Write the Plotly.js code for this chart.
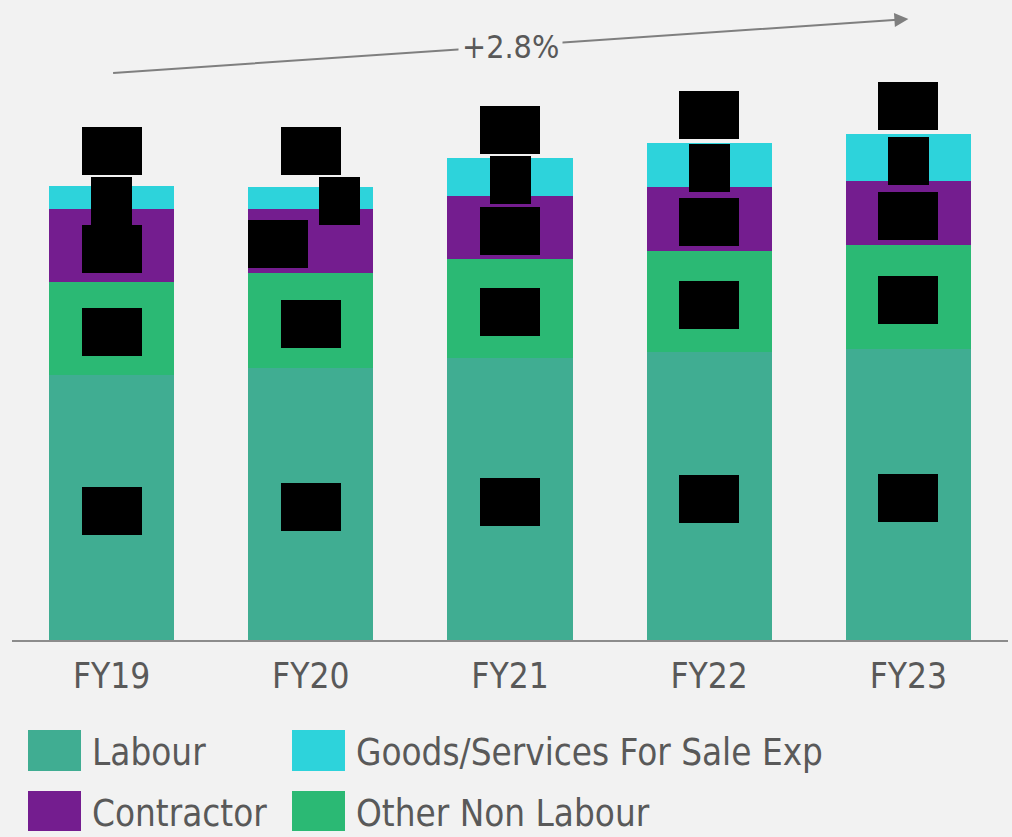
<!DOCTYPE html>
<html>
<head>
<meta charset="utf-8">
<script src="https://cdn.plot.ly/plotly-3.0.1.min.js"></script>
<style>
  html, body { margin: 0; padding: 0; background: #f2f2f2; }
  #chart { width: 1012px; height: 837px; }
</style>
</head>
<body>
<div id="chart"></div>
<script>
// ---- Data ----
const categories = ['FY19', 'FY20', 'FY21', 'FY22', 'FY23'];
const labour = [265, 272, 282, 288, 291];
const otherNonLabour = [93, 95, 99, 101, 104];
const contractor = [73, 64, 63, 64, 64];
const goodsServices = [23, 22, 38, 44, 47];
const seriesNames = ['Labour', 'Other Non Labour', 'Contractor', 'Goods/Services For Sale Exp'];
const growthLabel = '+2.8%';

// ---- Styling ----
const colors = {
  'Labour': '#40ad92',
  'Other Non Labour': '#2bb974',
  'Contractor': '#741d8f',
  'Goods/Services For Sale Exp': '#2dd3db'
};
const FONT = '"DejaVu Sans Condensed", "Liberation Sans Narrow", "DejaVu Sans", sans-serif';
const TEXT_COLOR = '#595959';
const BG = '#f2f2f2';

const W = 1012, H = 837;
const M = {l: 12, r: 4, t: 40, b: 197};
const Y_RANGE = [0, 600];
const plotW = W - M.l - M.r, plotH = H - M.t - M.b;
const unitPerPx = (Y_RANGE[1] - Y_RANGE[0]) / plotH;
const pxX = px => (px - M.l) / plotW;          // page px -> paper x
const pxY = py => (H - M.b - py) / plotH;      // page px -> paper y

const seriesData = [labour, otherNonLabour, contractor, goodsServices];

const traces = seriesData.map((vals, i) => ({
  type: 'bar',
  name: seriesNames[i],
  x: categories,
  y: vals,
  marker: {color: colors[seriesNames[i]], line: {width: 0}},
  showlegend: false,
  hoverinfo: 'x+y+name'
}));

// ---- Redacted value labels (black boxes) ----
const annotations = [];
const boxW = {'Labour': 60, 'Other Non Labour': 60, 'Contractor': 60, 'Goods/Services For Sale Exp': 41};
const BOX_H = 48;
const specialShift = { // label nudges to avoid overlap (px)
  'FY20|Contractor': -33,
  'FY20|Goods/Services For Sale Exp': 29
};
function blackBox(x, y, text, w, opts) {
  return Object.assign({
    x: x, y: y, xref: 'x', yref: 'y', text: text, showarrow: false,
    font: {family: FONT, size: 20, color: '#000000'},
    bgcolor: '#000000', bordercolor: '#000000', borderwidth: 0, borderpad: 0,
    width: w, height: BOX_H, xanchor: 'center', yanchor: 'middle'
  }, opts || {});
}
categories.forEach((cat, ci) => {
  let base = 0;
  let goodsTop = 0;
  seriesData.forEach((vals, si) => {
    const name = seriesNames[si];
    const v = vals[ci];
    const mid = base + v / 2 - 3 * unitPerPx;
    annotations.push(blackBox(cat, mid, String(v), boxW[name], {xshift: specialShift[cat + '|' + name] || 0}));
    if (si === seriesData.length - 1) goodsTop = mid + (BOX_H / 2) * unitPerPx;
    base += v;
  });
  const total = base;
  const totalBottom = Math.max(goodsTop + 1 * unitPerPx, total + 3 * unitPerPx);
  annotations.push(blackBox(cat, totalBottom + 1 * unitPerPx, String(total), 60, {yanchor: 'bottom'}));
});

// ---- Growth arrow ----
annotations.push({
  x: categories.length - 1, y: 621, xref: 'x', yref: 'y',
  ax: 0, ay: 567, axref: 'x', ayref: 'y',
  text: '', showarrow: true, arrowhead: 2, arrowsize: 1.4, arrowwidth: 2,
  arrowcolor: '#7f7f7f'
});
annotations.push({
  x: (categories.length - 1) / 2, y: 593, xref: 'x', yref: 'y',
  text: growthLabel, showarrow: false,
  font: {family: FONT, size: 32, color: TEXT_COLOR},
  bgcolor: BG, borderpad: 3, xanchor: 'center', yanchor: 'middle'
});

// ---- Custom legend (large swatches) ----
const shapes = [];
const legendOrder = ['Labour', 'Goods/Services For Sale Exp', 'Contractor', 'Other Non Labour'];
const colX = [28, 292];
const rowY = [[730, 771], [791, 831]];
legendOrder.forEach((name, k) => {
  const col = k % 2, row = Math.floor(k / 2);
  shapes.push({
    type: 'rect', xref: 'paper', yref: 'paper',
    x0: pxX(colX[col]), x1: pxX(colX[col] + 53),
    y0: pxY(rowY[row][1]), y1: pxY(rowY[row][0]),
    fillcolor: colors[name], line: {width: 0}
  });
  annotations.push({
    x: pxX(colX[col] + 62), y: pxY((rowY[row][0] + rowY[row][1]) / 2 + 2),
    xref: 'paper', yref: 'paper', text: name, showarrow: false,
    xanchor: 'left', yanchor: 'middle',
    font: {family: FONT, size: 36.5, color: TEXT_COLOR}
  });
});

const layout = {
  width: W, height: H,
  margin: M,
  paper_bgcolor: BG, plot_bgcolor: BG,
  barmode: 'stack',
  bargap: 0.372,
  showlegend: false,
  xaxis: {
    type: 'category',
    showline: true, linecolor: '#8c8c8c', linewidth: 1.5,
    ticks: '', showgrid: false, zeroline: false,
    tickfont: {family: FONT, size: 35, color: TEXT_COLOR},
    ticklabelstandoff: 4,
    fixedrange: true
  },
  yaxis: {
    range: Y_RANGE, visible: false, showgrid: false, zeroline: false, fixedrange: true
  },
  annotations: annotations,
  shapes: shapes
};

Plotly.newPlot('chart', traces, layout, {displayModeBar: false, staticPlot: true});
</script>
</body>
</html>
